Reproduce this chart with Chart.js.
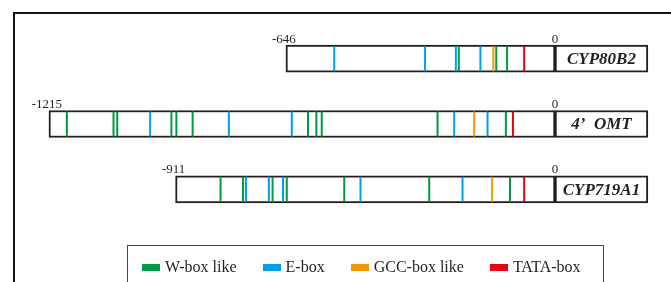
<!DOCTYPE html>
<html>
<head>
<meta charset="utf-8">
<script src="https://cdn.jsdelivr.net/npm/chart.js@4/dist/chart.umd.min.js"></script>
<style>
    html, body { margin: 0; padding: 0; background: #fff; overflow: hidden; }
    #wrap { position: relative; width: 671px; height: 282px; }
    #frame { position: absolute; left: 13px; top: 12px; width: 680px; height: 300px;
             border-left: 2px solid #111; border-top: 2px solid #111; }
    #chart { position: absolute; left: 0; top: 0; }
    #legend { position: absolute; left: 127px; top: 245px; width: 477px; height: 60px;
              border: 1.5px solid #444; box-sizing: border-box;
              display: flex; align-items: flex-start; padding: 12px 0 0 14px;
              font-family: 'Liberation Serif', serif; font-size: 16px; color: #231f20; }
    .item { display: flex; align-items: center; margin-right: 26px; white-space: nowrap; }
    .sw { width: 18px; height: 7px; margin-right: 5px; }
</style>
</head>
<body>
<div id="wrap">
    <div id="frame"></div>
    <canvas id="chart" width="671" height="282"></canvas>
    <div id="legend"></div>
</div>
<script>
// гены и длина промотора (bp до старта)
const genes = ['CYP80B2', '4’  OMT', 'CYP719A1'];
const promoterStart = [-646, -1215, -911];
const labelBoxEnd = 223;

// позиции мотивов по строкам (сверху вниз)
const wboxPos = [
    [-231, -141, -115],
    [-1172, -1060, -1051, -921, -909, -870, -593, -573, -560, -282, -118],
    [-803, -749, -678, -644, -506, -302, -108]
];
const eboxPos = [
    [-530, -312, -238, -179],
    [-972, -783, -632, -242, -162],
    [-742, -687, -653, -467, -222]
];
const gccPos = [[-148], [-194], [-151]];
const tataPos = [[-74], [-101], [-74]];

const motifNames = ['W-box like', 'E-box', 'GCC-box like', 'TATA-box'];
const motifColors = ['#009944', '#00a0e9', '#f39800', '#e60012'];
const motifData = [wboxPos, eboxPos, gccPos, tataPos];

function toPoints(rows) {
    const pts = [];
    rows.forEach((row, i) => row.forEach(x => pts.push({ x: x, y: genes[i] })));
    return pts;
}

const motifSets = motifData.map((rows, k) => ({
    type: 'scatter',
    label: motifNames[k],
    data: toPoints(rows),
    pointStyle: 'line',
    rotation: 90,
    pointRadius: 12.5,
    pointHoverRadius: 12.5,
    borderWidth: 2,
    borderColor: motifColors[k],
    backgroundColor: motifColors[k],
    order: 1
}));

// подписи: -646 / 0 над рамкой и имя гена в правой рамке
const labelsPlugin = {
    id: 'geneLabels',
    afterDatasetsDraw(chart) {
        const ctx = chart.ctx;
        const xs = chart.scales.x, ys = chart.scales.y;
        ctx.save();
        ctx.fillStyle = '#231f20';
        genes.forEach((g, i) => {
            const yc = ys.getPixelForValue(i);
            ctx.font = '13px "Liberation Serif", serif';
            ctx.textAlign = 'center';
            ctx.textBaseline = 'alphabetic';
            ctx.fillText(String(promoterStart[i]), xs.getPixelForValue(promoterStart[i]) - 2, yc - 16);
            ctx.fillText('0', xs.getPixelForValue(0), yc - 16);
            ctx.font = 'italic bold 17px "Liberation Serif", serif';
            ctx.textBaseline = 'middle';
            ctx.fillText(g, xs.getPixelForValue(labelBoxEnd / 2), yc + 1);
        });
        ctx.restore();
    }
};

new Chart(document.getElementById('chart').getContext('2d'), {
    type: 'bar',
    data: {
        labels: genes,
        datasets: [
            ...motifSets,
            {
                label: 'promoter',
                data: promoterStart.map(s => [s, 0]),
                indexAxis: 'y',
                grouped: false,
                backgroundColor: '#ffffff',
                borderColor: '#231f20',
                borderWidth: 2,
                borderSkipped: false,
                barThickness: 27,
                order: 10
            },
            {
                label: 'name',
                data: genes.map(() => [0, labelBoxEnd]),
                indexAxis: 'y',
                grouped: false,
                backgroundColor: '#ffffff',
                borderColor: '#231f20',
                borderWidth: 2,
                borderSkipped: false,
                barThickness: 27,
                order: 10
            }
        ]
    },
    options: {
        responsive: false,
        animation: false,
        layout: { autoPadding: false, padding: { top: 26, bottom: 60, left: 0, right: 0 } },
        scales: {
            x: { type: 'linear', min: -1332.5, max: 278.5, offset: false, display: false },
            y: { type: 'category', labels: genes, offset: true, display: false }
        },
        plugins: {
            legend: { display: false },
            tooltip: { enabled: false }
        }
    },
    plugins: [labelsPlugin]
});

// легенда снизу
const legend = document.getElementById('legend');
motifNames.forEach((name, k) => {
    const item = document.createElement('div');
    item.className = 'item';
    const sw = document.createElement('span');
    sw.className = 'sw';
    sw.style.background = motifColors[k];
    const txt = document.createElement('span');
    txt.textContent = name;
    item.appendChild(sw);
    item.appendChild(txt);
    legend.appendChild(item);
});
</script>
</body>
</html>
